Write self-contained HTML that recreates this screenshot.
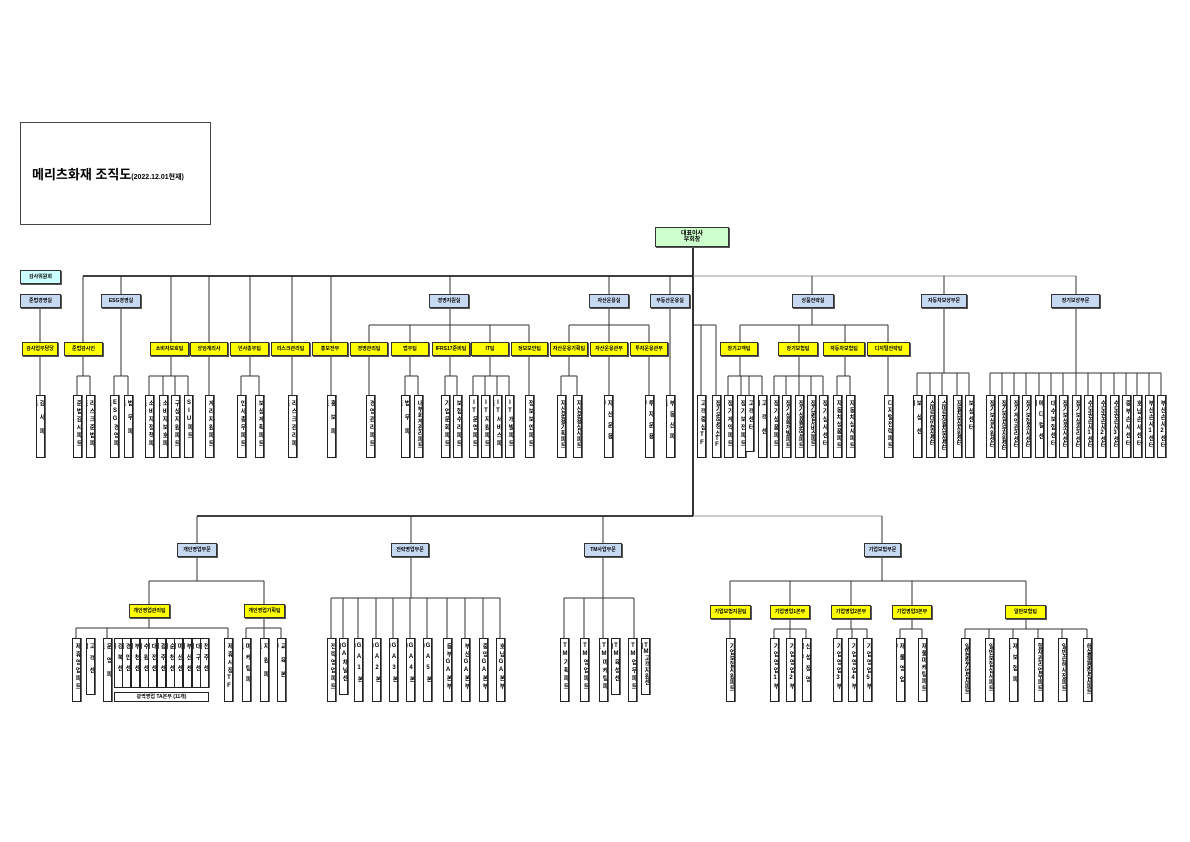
<!DOCTYPE html>
<html><head><meta charset="utf-8"><style>
*{margin:0;padding:0;box-sizing:border-box}
body{width:1190px;height:842px;background:#fff;position:relative;overflow:hidden;font-family:"Liberation Sans","Noto Sans CJK KR",sans-serif;font-weight:bold}
svg{position:absolute;left:0;top:0}
.b{position:absolute;border:1px solid #333;box-shadow:1px 1px 0 #555;font-size:5px;line-height:12px;text-align:center;white-space:nowrap;overflow:hidden;height:14px;top:342px}
.bl{background:#c6d9f1;top:294px}
.y{background:#ffff00}
.l,.L{position:absolute;width:9px;border:1px solid #222;box-shadow:1px 0 0 #666;background:#fff;font-size:6px;writing-mode:vertical-rl;text-orientation:upright;letter-spacing:2px;padding:4px 0;line-height:7px;overflow:hidden}
.l{top:395px;height:63px}
.L{top:638px;height:64px}
.g{height:50px}
</style></head><body>
<div style="position:absolute;left:20px;top:122px;width:191px;height:103px;border:1px solid #444"></div>
<div style="position:absolute;left:32px;top:164px;font-size:13px;white-space:nowrap">메리츠화재 조직도<span style="font-size:7px">(2022.12.01현재)</span></div>
<svg width="1190" height="842" fill="none" stroke="#333" stroke-width="1">
<path stroke="#000" stroke-width="1.6" d="M83 276H693M693 246V516M197 516H693"/>
<path stroke="#999" d="M693 276H1076M693 516H882"/>
<path d="M83 276V342M121 276V294M171 276V342M209 276V342M250 276V342M292 276V342M331 276V342M450 276V294M609 276V294M670 276V294M812 276V294M944 276V294M1076 276V294
M40 308V342M40 356V395M83 356V376M77 376H90M77 376V395M90 376V395
M121 308V376M114 376H128M114 376V395M128 376V395
M171 356V376M149 376H188M149 376V395M163 376V395M175 376V395M188 376V395
M209 356V395M250 356V376M241 376H259M241 376V395M259 376V395M292 356V395M331 356V395
M450 308V325M369 325H529M369 325V342M410 325V342M450 325V342M490 325V342M529 325V342
M369 356V395M410 356V376M405 376H418M405 376V395M418 376V395M450 356V376M445 376H457M445 376V395M457 376V395
M490 356V376M473 376H509M473 376V395M485 376V395M497 376V395M509 376V395M529 356V395
M609 308V325M569 325H649M569 325V342M609 325V342M649 325V342M569 356V376M561 376H577M561 376V395M577 376V395M609 356V395M649 356V395
M670 308V395M693 325H716M701 325V395M716 325V395
M812 308V325M740 325H888M740 325V342M799 325V342M845 325V342M888 325V342
M740 356V376M728 376H762M728 376V395M741 376V395M749 376V395M762 376V395
M799 356V376M774 376H823M774 376V395M786 376V395M799 376V395M811 376V395M823 376V395
M845 356V376M837 376H850M837 376V395M850 376V395M888 356V395
M944 308V373M917 373H969M917 373V395M930 373V395M942 373V395M957 373V395M969 373V395
M1076 308V373M990 373H1161M990 373V395M1002 373V395M1014 373V395M1026 373V395M1039 373V395M1051 373V395M1063 373V395M1076 373V395M1088 373V395M1101 373V395M1114 373V395M1126 373V395M1137 373V395M1149 373V395M1161 373V395
M197 516V543M411 516V543M603 516V543M882 516V543
M197 557V581M149 581H264M149 581V604M264 581V604
M149 617V628M76 628H228M76 628V638M107 628V638M228 628V638M264 617V628M246 628H281M246 628V638M264 628V638M281 628V638
M411 557V598M331 598H500M331 598V638M343 598V638M358 598V638M376 598V638M393 598V638M410 598V638M427 598V638M447 598V638M465 598V638M483 598V638M500 598V638
M603 557V598M564 598H634M564 598V638M584 598V638M603 598V638M634 598V638
M882 557V581M730 581H1026M730 581V607M790 581V607M851 581V607M912 581V607M1026 581V607
M730 618V640M790 618V629M774 629H806M774 629V640M790 629V640M806 629V640
M851 618V629M837 629H867M837 629V640M852 629V640M867 629V640M912 618V629M900 629H922M900 629V640M922 629V640
M1026 618V629M965 629H1087M965 629V640M989 629V640M1013 629V640M1038 629V640M1062 629V640M1087 629V640"/>
</svg>
<div class="b" style="left:655px;top:227px;width:74px;height:20px;background:#ccffcc;font-size:6px;line-height:6px;padding-top:3px">대표이사<br>부회장</div>
<div class="b" style="left:20px;top:270px;width:41px;background:#ccffff">감사위원회</div>
<div class="b bl" style="left:20px;width:41px">준법경영실</div>
<div class="b bl" style="left:101px;width:40px">ESG경영실</div>
<div class="b bl" style="left:429px;width:40px">경영지원실</div>
<div class="b bl" style="left:589px;width:40px">자산운용실</div>
<div class="b bl" style="left:650px;width:40px">부동산운용실</div>
<div class="b bl" style="left:792px;width:42px">상품전략실</div>
<div class="b bl" style="left:921px;width:46px">자동차보상부문</div>
<div class="b bl" style="left:1051px;width:49px">장기보상부문</div>
<div class="b y" style="left:22px;width:36px">감사업무담당</div>
<div class="b y" style="left:64px;width:39px">준법감시인</div>
<div class="b y" style="left:150px;width:39px">소비자보호팀</div>
<div class="b y" style="left:190px;width:38px">상임계리사</div>
<div class="b y" style="left:230px;width:39px">인사총무팀</div>
<div class="b y" style="left:271px;width:39px">리스크관리팀</div>
<div class="b y" style="left:312px;width:36px">홍보전부</div>
<div class="b y" style="left:350px;width:38px">경영관리팀</div>
<div class="b y" style="left:391px;width:38px">법무팀</div>
<div class="b y" style="left:432px;width:38px">IFRS17준비팀</div>
<div class="b y" style="left:471px;width:38px">IT팀</div>
<div class="b y" style="left:511px;width:37px">정보보안팀</div>
<div class="b y" style="left:550px;width:38px">자산운용기획팀</div>
<div class="b y" style="left:590px;width:38px">자산운용관부</div>
<div class="b y" style="left:630px;width:38px">투자운용관부</div>
<div class="b y" style="left:720px;width:38px">장기고객팀</div>
<div class="b y" style="left:778px;width:40px">장기보험팀</div>
<div class="b y" style="left:823px;width:42px">자동차보험팀</div>
<div class="b y" style="left:867px;width:43px">디지털전략팀</div>
<div class="b bl" style="left:177px;top:543px;width:40px">개인영업부문</div>
<div class="b bl" style="left:391px;top:543px;width:38px">전략영업부문</div>
<div class="b bl" style="left:584px;top:543px;width:38px">TM사업부문</div>
<div class="b bl" style="left:864px;top:543px;width:37px">기업보험부문</div>
<div class="b y" style="left:129px;top:604px;width:41px">개인영업관리팀</div>
<div class="b y" style="left:244px;top:604px;width:41px">개인영업기획팀</div>
<div class="b y" style="left:710px;top:605px;width:41px">기업보험지원팀</div>
<div class="b y" style="left:770px;top:605px;width:40px">기업영업1본부</div>
<div class="b y" style="left:831px;top:605px;width:40px">기업영업2본부</div>
<div class="b y" style="left:892px;top:605px;width:40px">기업영업3본부</div>
<div class="b y" style="left:1005px;top:605px;width:41px">일반보험팀</div>

<div class="l" style="left:36px;letter-spacing:8px">감사파트</div>
<div class="l" style="left:73px">준법감시파트</div>
<div class="l" style="left:86px">리스크준법파트</div>
<div class="l" style="left:110px">ESG경영파트</div>
<div class="l" style="left:124px;letter-spacing:8px">법무파트</div>
<div class="l" style="left:145px">소비자정책파트</div>
<div class="l" style="left:159px">소비자보호파트</div>
<div class="l" style="left:171px">구상지원파트</div>
<div class="l" style="left:184px">SIU파트</div>
<div class="l" style="left:205px">계리지원파트</div>
<div class="l" style="left:237px">인사총무파트</div>
<div class="l" style="left:255px">보상계획파트</div>
<div class="l" style="left:288px">리스크관리파트</div>
<div class="l" style="left:327px;letter-spacing:8px">홍보파트</div>
<div class="l" style="left:366px">경영관리파트</div>
<div class="l" style="left:401px;letter-spacing:8px">법무파트</div>
<div class="l" style="left:414px;letter-spacing:0">내부회계관리파트</div>
<div class="l" style="left:441px">기업문화파트</div>
<div class="l" style="left:453px">보험수리파트</div>
<div class="l" style="left:469px">IT운영파트</div>
<div class="l" style="left:481px">IT지원파트</div>
<div class="l" style="left:493px">IT서비스파트</div>
<div class="l" style="left:505px">IT개발파트</div>
<div class="l" style="left:525px">정보보안파트</div>
<div class="l" style="left:557px;letter-spacing:0">자산운용기획파트</div>
<div class="l" style="left:573px;letter-spacing:0">자산운용심사파트</div>
<div class="l" style="left:604px;letter-spacing:5px">자산운용부</div>
<div class="l" style="left:645px;letter-spacing:5px">투자운용부</div>
<div class="l" style="left:666px;letter-spacing:5px">부동산파트</div>
<div class="l" style="left:697px">고객중심TF</div>
<div class="l" style="left:712px;letter-spacing:0">장기운영혁신TF</div>
<div class="l" style="left:724px">장기계약파트</div>
<div class="l" style="left:737px">장기보전파트</div>
<div class="l" style="left:745px;height:57px">고객센터(3)</div>
<div class="l" style="left:758px;letter-spacing:8px">고객센터</div>
<div class="l" style="left:770px">장기상품파트</div>
<div class="l" style="left:782px;letter-spacing:0">장기상품개발파트</div>
<div class="l" style="left:795px;letter-spacing:0">장기상품운영파트</div>
<div class="l" style="left:807px;letter-spacing:-1px">장기보험서비스파트</div>
<div class="l" style="left:819px">장기심사센터</div>
<div class="l" style="left:833px;letter-spacing:1px">자동차상품파트</div>
<div class="l" style="left:846px;letter-spacing:1px">자동차심사파트</div>
<div class="l" style="left:884px;letter-spacing:1px">디지털전략파트</div>
<div class="l" style="left:913px;letter-spacing:8px">보상센터</div>
<div class="l" style="left:926px;letter-spacing:-1px">스마트대인보상센터</div>
<div class="l" style="left:938px;letter-spacing:-1px">스마트자동차보상센터</div>
<div class="l" style="left:953px;letter-spacing:-1px">자동차보상지원센터</div>
<div class="l" style="left:965px">보상센터(1~8)</div>
<div class="l" style="left:986px;letter-spacing:0">장기보상지원센터</div>
<div class="l" style="left:998px;letter-spacing:-1px">장기보상사무지원센터</div>
<div class="l" style="left:1010px;letter-spacing:0">장기계약관리센터</div>
<div class="l" style="left:1022px;letter-spacing:0">장기보험조사센터</div>
<div class="l" style="left:1035px;letter-spacing:5px">메디컬센터</div>
<div class="l" style="left:1047px">대수보험센터</div>
<div class="l" style="left:1059px;letter-spacing:0">장기보상조사센터</div>
<div class="l" style="left:1072px;letter-spacing:0">장기보상관리센터</div>
<div class="l" style="left:1084px;letter-spacing:0">수도권손사1센터</div>
<div class="l" style="left:1097px;letter-spacing:0">수도권손사2센터</div>
<div class="l" style="left:1110px;letter-spacing:0">수도권손사3센터</div>
<div class="l" style="left:1122px">중부손사센터</div>
<div class="l" style="left:1133px">호남손사센터</div>
<div class="l" style="left:1145px;letter-spacing:1px">부산손사1센터</div>
<div class="l" style="left:1157px;letter-spacing:1px">부산손사2센터</div>

<div class="L" style="left:72px">제휴영업파트</div>
<div class="L" style="left:86px;height:57px;letter-spacing:6px">고객센터</div>
<div class="L" style="left:103px;letter-spacing:8px">운영파트</div>
<div class="L g" style="left:114px;letter-spacing:5px">강북센터</div>
<div class="L g" style="left:122px;letter-spacing:5px">경인센터</div>
<div class="L g" style="left:131px;letter-spacing:5px">부천센터</div>
<div class="L g" style="left:140px;letter-spacing:5px">수원센터</div>
<div class="L g" style="left:148px;letter-spacing:5px">대전센터</div>
<div class="L g" style="left:157px;letter-spacing:5px">광주센터</div>
<div class="L g" style="left:166px;letter-spacing:5px">순천센터</div>
<div class="L g" style="left:174px;letter-spacing:5px">마산센터</div>
<div class="L g" style="left:183px;letter-spacing:5px">부산센터</div>
<div class="L g" style="left:192px;letter-spacing:5px">대구센터</div>
<div class="L g" style="left:200px;letter-spacing:5px">전주센터</div>
<div style="position:absolute;left:114px;top:692px;width:95px;height:10px;border:1px solid #222;font-size:5px;line-height:8px;text-align:center;white-space:nowrap">광역영업 TA본부 (11개)</div>
<div class="L" style="left:224px">제휴시장TF</div>
<div class="L" style="left:242px;letter-spacing:5px">마케팅파트</div>
<div class="L" style="left:260px;letter-spacing:8px">지원파트</div>
<div class="L" style="left:277px;letter-spacing:8px">교육본부</div>
<div class="L" style="left:327px">전략영업파트</div>
<div class="L" style="left:339px;height:57px">GA채널센터</div>
<div class="L" style="left:354px;letter-spacing:5px">GA1본부</div>
<div class="L" style="left:372px;letter-spacing:5px">GA2본부</div>
<div class="L" style="left:389px;letter-spacing:5px">GA3본부</div>
<div class="L" style="left:406px;letter-spacing:5px">GA4본부</div>
<div class="L" style="left:423px;letter-spacing:5px">GA5본부</div>
<div class="L" style="left:443px">동부GA본부</div>
<div class="L" style="left:461px">부산GA본부</div>
<div class="L" style="left:479px">중앙GA본부</div>
<div class="L" style="left:496px">호남GA본부</div>
<div class="L" style="left:560px">TM기획파트</div>
<div class="L" style="left:580px">TM영업파트</div>
<div class="L" style="left:599px">TM마케팅파트</div>
<div class="L" style="left:611px;height:57px">TM육성센터</div>
<div class="L" style="left:628px">TM업무파트</div>
<div class="L" style="left:641px;height:57px;letter-spacing:0">TM고객지원센터</div>
<div class="L" style="left:726px;letter-spacing:0">기업보험지원파트</div>
<div class="L" style="left:770px">기업영업1부</div>
<div class="L" style="left:786px">기업영업2부</div>
<div class="L" style="left:802px;letter-spacing:5px">신성장영업부</div>
<div class="L" style="left:833px">기업영업3부</div>
<div class="L" style="left:848px">기업영업4부</div>
<div class="L" style="left:863px">기업영업5부</div>
<div class="L" style="left:896px;letter-spacing:5px">재물영업부</div>
<div class="L" style="left:918px;letter-spacing:1px">재물마케팅파트</div>
<div class="L" style="left:961px;letter-spacing:-1px">일반보험기업심사파트</div>
<div class="L" style="left:985px;letter-spacing:0">일반보험심사파트</div>
<div class="L" style="left:1009px;letter-spacing:5px">재보험파트</div>
<div class="L" style="left:1034px;letter-spacing:0">항재관리업무파트</div>
<div class="L" style="left:1058px;letter-spacing:0">일반손해사정파트</div>
<div class="L" style="left:1083px;letter-spacing:-1px">해상특종보험심사파트</div>
</body></html>
